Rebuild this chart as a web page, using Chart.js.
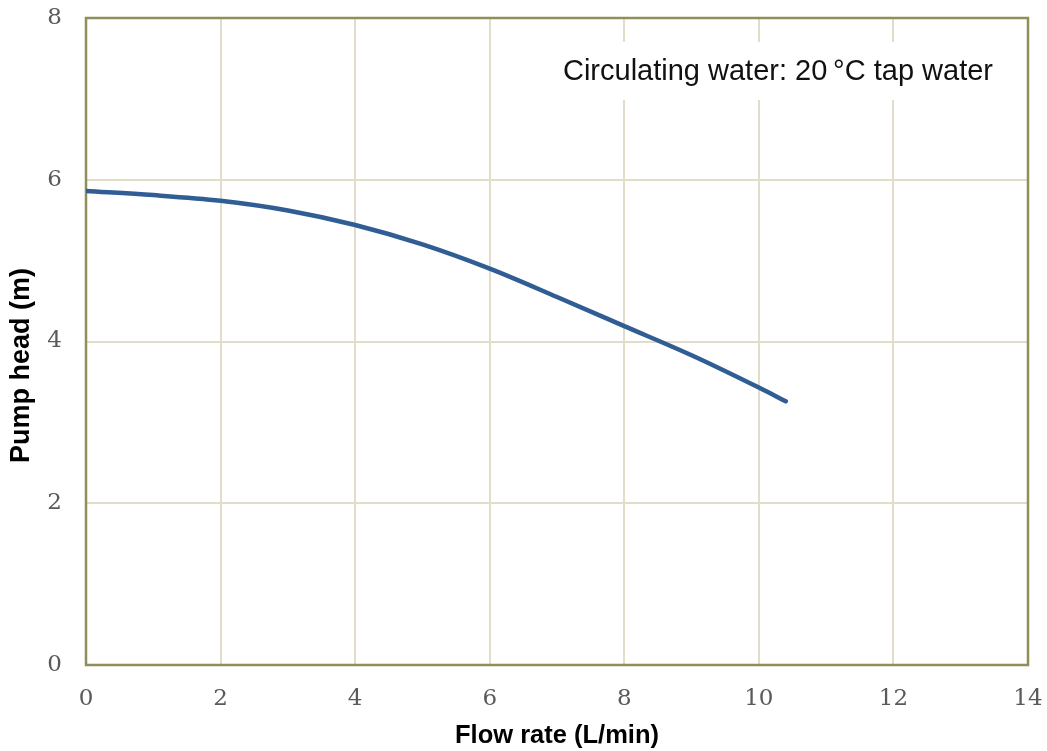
<!DOCTYPE html>
<html>
<head>
<meta charset="utf-8">
<script src="https://cdn.jsdelivr.net/npm/chart.js@4.4.1/dist/chart.umd.min.js"></script>
<style>
  html, body { margin: 0; padding: 0; background: #fff; }
  canvas { display: block; }
</style>
</head>
<body>
<canvas id="chart" width="1047" height="751"></canvas>
<script>
// flow rate (L/min) and pump head (m)
const flowRate = [0, 1, 2, 3, 4, 5, 6, 7, 8, 9, 10, 10.4];
const pumpHead = [5.86, 5.81, 5.74, 5.62, 5.44, 5.2, 4.9, 4.55, 4.19, 3.83, 3.43, 3.26];
const xTicks = [0, 2, 4, 6, 8, 10, 12, 14];
const yTicks = [0, 2, 4, 6, 8];
const noteText = "Circulating water: 20\u2009°C tap water";
const yTitle = "Pump head (m)";

const borderColor = "#8f8f57";
const gridColor = "#e1ddc9";
const lineColor = "#2f5d94";

// white note box, olive frame, y title (sits a bit below the middle)
const framePlugin = {
  id: "frame",
  beforeDatasetsDraw(chart) {
    const ctx = chart.ctx;
    const a = chart.chartArea;
    ctx.save();
    ctx.font = "29px 'Liberation Sans', Arial, sans-serif";
    const w = ctx.measureText(noteText).width;
    const boxW = w + 30;
    const boxR = a.right - 20;
    const boxT = a.top + 24;
    const boxH = 58;
    ctx.fillStyle = "#fff";
    ctx.fillRect(boxR - boxW, boxT, boxW, boxH);
    ctx.fillStyle = "#111";
    ctx.textAlign = "center";
    ctx.textBaseline = "middle";
    ctx.fillText(noteText, boxR - boxW / 2, boxT + boxH / 2 + 1);

    ctx.strokeStyle = borderColor;
    ctx.lineWidth = 2.5;
    ctx.strokeRect(a.left, a.top, a.right - a.left, a.bottom - a.top);

    ctx.translate(22, (a.top + a.bottom) / 2 + 24);
    ctx.rotate(-Math.PI / 2);
    ctx.font = "bold 27px 'Liberation Sans', Arial, sans-serif";
    ctx.fillStyle = "#000";
    ctx.fillText(yTitle, 0, 0);
    ctx.restore();
  }
};

const tickFont = { family: "'DejaVu Serif', serif", size: 23 };
const titleFont = { family: "'Liberation Sans', Arial, sans-serif", size: 25.5, weight: "bold" };

new Chart(document.getElementById("chart"), {
  type: "scatter",
  data: {
    datasets: [{
      data: flowRate.map((x, i) => ({ x: x, y: pumpHead[i] })),
      showLine: true,
      borderColor: lineColor,
      borderWidth: 4.5,
      pointRadius: 0,
      cubicInterpolationMode: "monotone",
      borderCapStyle: "round",
      fill: false
    }]
  },
  options: {
    responsive: false,
    animation: false,
    layout: { padding: { top: 18, right: 19, bottom: 0, left: 0 } },
    plugins: { legend: { display: false }, tooltip: { enabled: false } },
    scales: {
      x: {
        type: "linear",
        min: 0,
        max: 14,
        afterBuildTicks: s => { s.ticks = xTicks.map(v => ({ value: v })); },
        afterFit: s => { s.height = 86; s.paddingLeft = 0; s.paddingRight = 0; },
        grid: { color: gridColor, lineWidth: 2, drawTicks: false },
        border: { display: false },
        ticks: { font: tickFont, color: "#5a5a5a", padding: 20, maxRotation: 0 },
        title: { display: true, text: "Flow rate (L/min)", font: titleFont, color: "#000", padding: { top: 3, bottom: 0 } }
      },
      y: {
        type: "linear",
        min: 0,
        max: 8,
        afterBuildTicks: s => { s.ticks = yTicks.map(v => ({ value: v })); },
        afterFit: s => { s.width = 86; s.paddingTop = 0; s.paddingBottom = 0; },
        grid: { color: gridColor, lineWidth: 2, drawTicks: false },
        border: { display: false },
        ticks: { font: tickFont, color: "#5a5a5a", padding: 24 }
      }
    }
  },
  plugins: [framePlugin]
});
</script>
</body>
</html>
